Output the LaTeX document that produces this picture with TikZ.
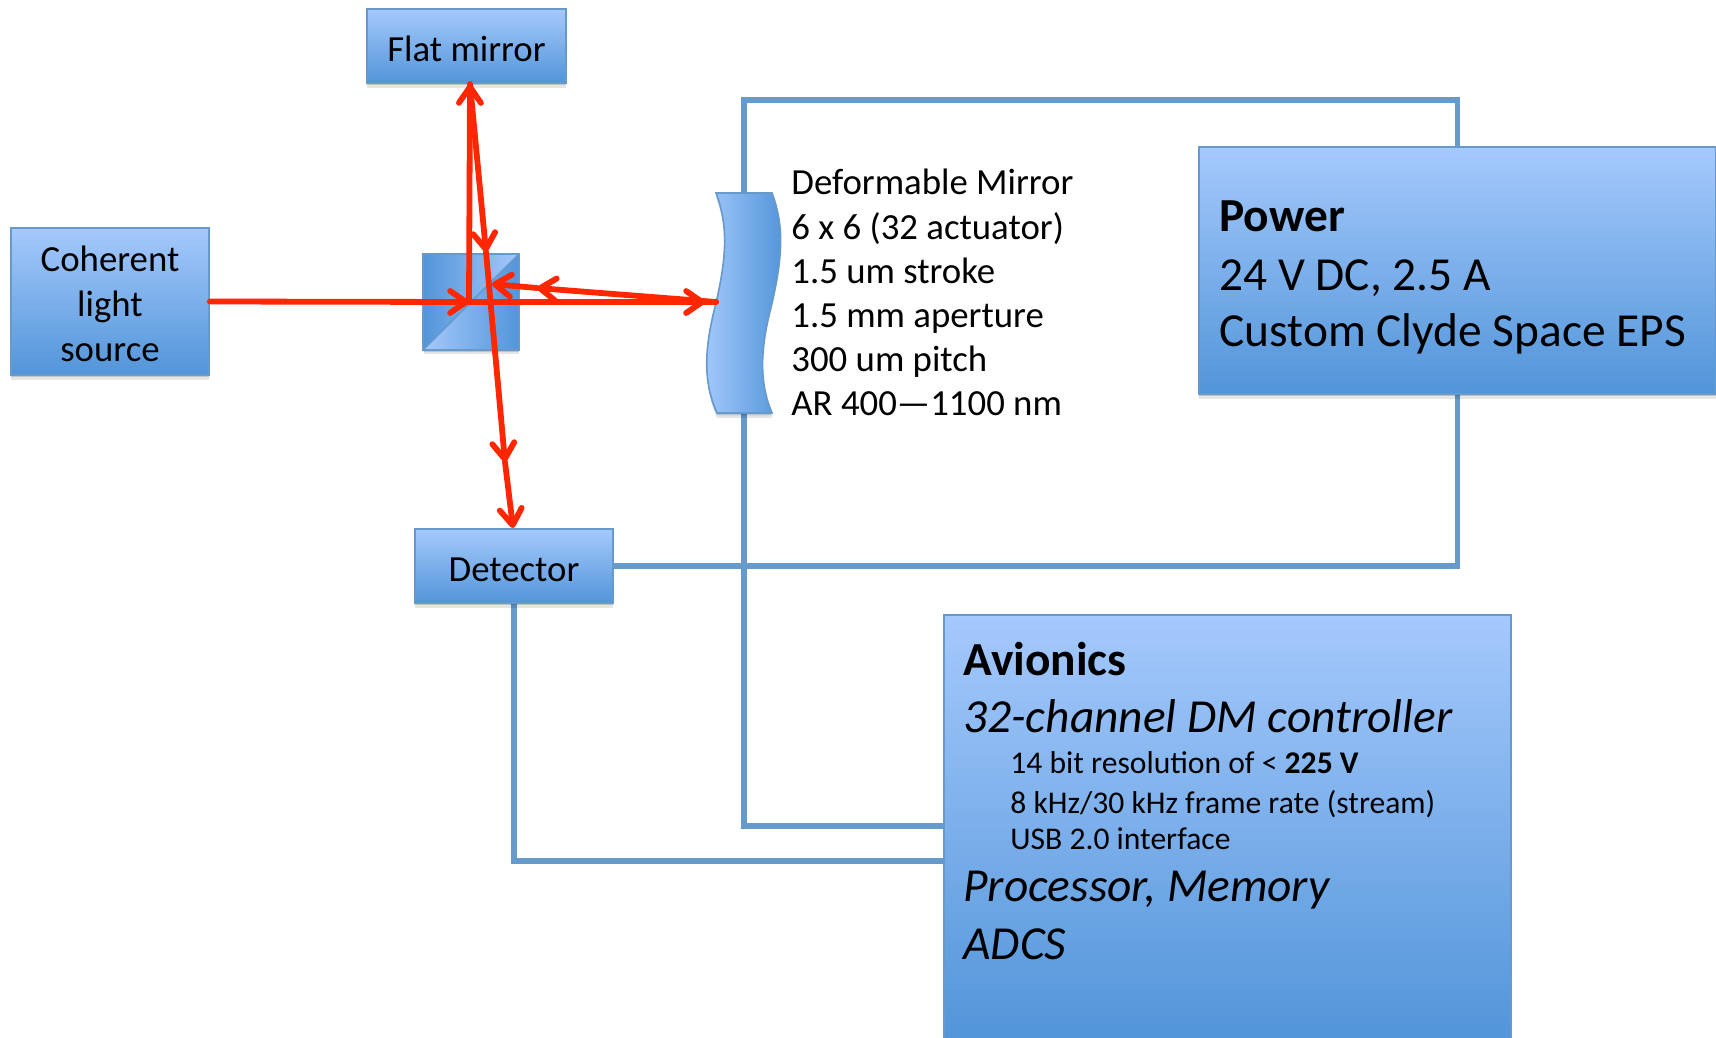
\documentclass[tikz,border=0pt]{standalone}
\usepackage{fontspec}
\setmainfont{Carlito}
\usetikzlibrary{arrows.meta,backgrounds,shadows}
\definecolor{boxtop}{HTML}{A5C9FC}
\definecolor{boxbottom}{HTML}{5295D9}
\definecolor{boxline}{HTML}{6699CC}
\definecolor{rayred}{HTML}{FF2600}

\begin{document}
\begin{tikzpicture}[
  x=0.5pt, y=-0.5pt,
  softshadow/.style={drop shadow={shadow xshift=0pt, shadow yshift=-2.4pt, opacity=0.1, fill=black},
    drop shadow={shadow xshift=0pt, shadow yshift=-1.2pt, opacity=0.15, fill=black}},
  box/.style={rectangle, draw=boxline, line width=0.8pt, top color=boxtop, bottom color=boxbottom, softshadow, inner sep=0pt},
  boxtext/.style={inner sep=0pt, align=center, font=\fontsize{18.4}{22.4}\selectfont},
  wire/.style={draw=boxline, line width=2.7pt},
  ray/.style={draw=rayred, line width=2.9pt, line cap=round},
  rayarr/.style={ray, -{Straight Barb[length=8pt, width=11pt, line width=2.9pt, round]}},
  bigline/.style={anchor=base west, inner sep=0pt, font=\fontsize{23.7}{29}\selectfont},
  smallline/.style={anchor=base west, inner sep=0pt, font=\fontsize{15.8}{20}\selectfont}
]
\useasboundingbox (0,0) rectangle (1716,1037.5);

\node[box, minimum width=99.5pt, minimum height=37pt] (flat) at (466.5,46) {};
\node[box, minimum width=99pt, minimum height=73.5pt] (source) at (110,301.5) {};
\node[box, minimum width=99pt, minimum height=37pt] (detector) at (514,566) {};
\node[box, minimum width=258.5pt, minimum height=123.5pt] (power) at (1457.5,270.5) {};
\node[box, minimum width=283.5pt, minimum height=212pt] (avionics) at (1227.5,827) {};

\node[boxtext] (flattext) at (466.5,49) {Flat mirror};
\node[boxtext] (sourcetext) at (110,304) {Coherent\\light\\source};
\node[boxtext] (detectortext) at (514,570) {Detector};

% beam splitter
\coordinate (cubecentre) at (471,302);
\node[minimum size=47.5pt, inner sep=0pt, softshadow, fill=boxbottom] (cube) at (cubecentre) {};
\shade[left color=boxbottom, right color=boxtop] (cube.north west) -- (cube.north east) -- (cube.south west) -- cycle;
\shade[left color=boxtop, right color=boxbottom] (cube.north east) -- (cube.south east) -- (cube.south west) -- cycle;
\draw[boxline, line width=0.8pt] (cube.north west) rectangle (cube.south east);
\draw[boxline, line width=0.8pt] (cube.south west) -- (cube.north east);

% deformable mirror
\path[left color=boxtop, right color=boxbottom, draw=boxline, line width=0.8pt, softshadow]
  (716,193) .. controls (728,225) and (727,255) .. (716,303) .. controls (705,345) and (702,380) .. (717,413)
  -- (772,413) .. controls (758,380) and (761,345) .. (772,303) .. controls (783,255) and (784,225) .. (772,193) -- cycle;
\coordinate (dmtop) at (744,193);
\coordinate (dmbottom) at (744,413);
\coordinate (dmfront) at (716,302);

\node[anchor=north west, inner sep=0pt, align=left, font=\fontsize{18.4}{22.1}\selectfont] (dmtext) at (791,169)
  {Deformable Mirror\\6 x 6 (32 actuator)\\1.5 um stroke\\1.5 mm aperture\\300 um pitch\\AR 400—1100 nm};

% power text
\node[bigline] (powertitle) at (1219,232) {\textbf{Power}};
\node[bigline] (powerspec) at (1219,290) {24 V DC, 2.5 A};
\node[bigline] (powereps) at (1219,346) {Custom Clyde Space EPS};

% avionics text
\node[bigline] (avititle) at (963,675) {\textbf{Avionics}};
\node[bigline] (avidm) at (963,732) {\textit{32-channel DM controller}};
\node[smallline] (avibits) at (1010,773) {14 bit resolution of < \textbf{225 V}};
\node[smallline] (avirate) at (1010,813) {8 kHz/30 kHz frame rate (stream)};
\node[smallline] (aviusb) at (1010,849) {USB 2.0 interface};
\node[bigline] (aviproc) at (963,901) {\textit{Processor, Memory}};
\node[bigline] (aviadcs) at (963,959) {\textit{ADCS}};

% wires
\coordinate (wirecorner) at (744,100);
\coordinate (aviupper) at (943,826);
\coordinate (avilower) at (943,861);
\begin{scope}[on background layer]
\draw[wire] (dmtop) -- (wirecorner) -| (power.north);
\draw[wire] (dmbottom) |- (aviupper);
\draw[wire] (detector.east) -| (power.south);
\draw[wire] (detector.south) |- (avilower);
\end{scope}

% rays
\coordinate (split) at (469,302);
\coordinate (mirrortip) at (470,84);
\coordinate (backsplit) at (486,252);
\coordinate (backdm) at (492,284);
\coordinate (dmhead) at (705,302);
\coordinate (dmmid) at (537,288);
\coordinate (detmid) at (505,462);
\coordinate (dettip) at (513,528);

\draw[rayarr] (source.east) -- (split);
\draw[rayarr] (split) -- (mirrortip);
\draw[rayarr] (mirrortip) -- (backsplit);
\draw[ray] (split) -- (dmfront);
\draw[rayarr] (split) -- (dmhead);
\draw[rayarr] (dmfront) -- (dmmid);
\draw[rayarr] (dmmid) -- (backdm);
\draw[rayarr] (backsplit) -- (detmid);
\draw[rayarr] (detmid) -- (dettip);
\end{tikzpicture}
\end{document}
